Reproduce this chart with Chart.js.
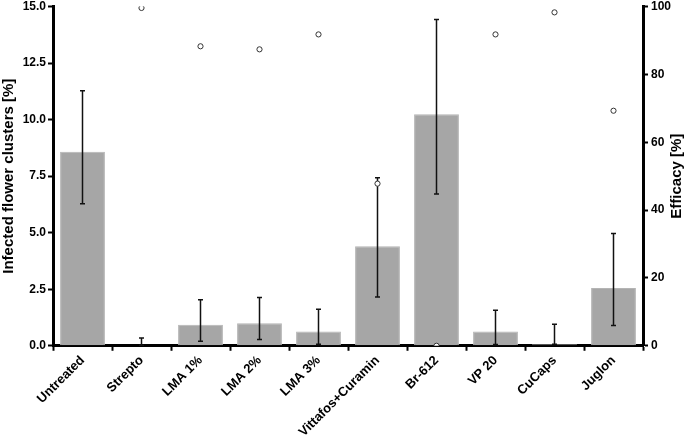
<!DOCTYPE html>
<html>
  <head>
    <meta charset="UTF-8">
    <title>Infected flower clusters and efficacy</title>
    <script src="https://cdn.jsdelivr.net/npm/chart.js@4.4.0/dist/chart.umd.min.js"></script>
    <style>
      body { margin: 0; background: #fff; }
      #wrap { width: 685px; height: 439px; }
    </style>
  </head>
  <body>
    <div id='wrap'><canvas id='chart'></canvas></div>

    <script>
      const treatments = ['Untreated', 'Strepto', 'LMA 1%', 'LMA 2%', 'LMA 3%',
        'Vittafos+Curamin', 'Br-612', 'VP 20', 'CuCaps', 'Juglon'];

      // infected flower clusters [%], mean with error bar ends
      const infected = [8.58, 0.02, 0.93, 1.00, 0.63, 4.40, 10.24, 0.63, 0.07, 2.56];
      const errUpper = [11.28, 0.34, 2.04, 2.14, 1.62, 7.43, 14.43, 1.57, 0.95, 4.97];
      const errLower = [6.28, 0.02, 0.20, 0.28, 0.07, 2.16, 6.71, 0.06, 0.07, 0.90];

      // efficacy [%] (no value for the untreated control)
      const efficacy = [null, 99.6, 88.3, 87.4, 91.8, 47.8, 0, 91.8, 98.3, 69.3];

      const leftTicks = [0, 2.5, 5, 7.5, 10, 12.5, 15];
      const rightTicks = [0, 20, 40, 60, 80, 100];

      const FONT = 'Liberation Sans';
      const tickFont = { family: FONT, size: 12, weight: 'bold', lineHeight: 0.6 };
      const xTickFont = { family: FONT, size: 13, weight: 'bold' };
      const titleFont = { family: FONT, size: 15, weight: 'bold' };

      // error bars go on top of the bars but under the efficacy points
      const errorBars = {
        id: 'errorBars',
        afterDatasetDraw(chart, args) {
          if (args.index !== 0) return;
          const { ctx } = chart;
          const y = chart.scales.y;
          const meta = chart.getDatasetMeta(0);
          ctx.save();
          ctx.strokeStyle = '#111';
          ctx.lineWidth = 1.5;
          meta.data.forEach((bar, i) => {
            const top = y.getPixelForValue(errUpper[i]);
            const bottom = y.getPixelForValue(errLower[i]);
            ctx.beginPath();
            ctx.moveTo(bar.x, top);
            ctx.lineTo(bar.x, bottom);
            ctx.moveTo(bar.x - 2.5, top);
            ctx.lineTo(bar.x + 2.5, top);
            ctx.moveTo(bar.x - 2.5, bottom);
            ctx.lineTo(bar.x + 2.5, bottom);
            ctx.stroke();
          });
          ctx.restore();
        }
      };

      // right axis title reading bottom to top, like the left one
      const rightTitle = {
        id: 'rightTitle',
        afterDraw(chart) {
          const { ctx } = chart;
          const s = chart.scales.y2;
          ctx.save();
          ctx.translate(chart.width - 8, (s.top + s.bottom) / 2);
          ctx.rotate(-Math.PI / 2);
          ctx.font = `bold ${titleFont.size}px "${FONT}"`;
          ctx.fillStyle = '#000';
          ctx.textAlign = 'center';
          ctx.textBaseline = 'middle';
          ctx.fillText('Efficacy [%]', 0, 0);
          ctx.restore();
        }
      };

      const ctx = document.getElementById('chart').getContext('2d');
      new Chart(ctx, {
        data: {
          labels: treatments,
          datasets: [{
            type: 'bar',
            data: infected,
            backgroundColor: '#a6a6a6',
            borderColor: '#b4b4b4',
            borderWidth: 1,
            categoryPercentage: 1,
            barPercentage: 0.76,
            yAxisID: 'y',
            order: 1
          }, {
            type: 'line',
            data: efficacy,
            showLine: false,
            pointRadius: 2.6,
            pointBorderWidth: 1,
            pointBorderColor: '#333',
            pointBackgroundColor: '#fff',
            yAxisID: 'y2',
            order: 0
          }]
        },
        options: {
          responsive: true,
          maintainAspectRatio: false,
          animation: false,
          layout: { padding: { top: -2, left: 0, right: 0, bottom: -3 } },
          plugins: {
            legend: { display: false },
            tooltip: { enabled: false }
          },
          scales: {
            x: {
              offset: true,
              afterFit: (s) => { s.paddingLeft = 0; s.paddingRight = 0; },
              grid: { offset: true, drawOnChartArea: false, tickLength: 5, tickColor: '#000', tickWidth: 2 },
              border: { color: '#000', width: 3 },
              ticks: { color: '#000', font: xTickFont, minRotation: 45, maxRotation: 45, padding: 2 }
            },
            y: {
              position: 'left',
              min: 0,
              max: 15,
              afterBuildTicks: (s) => { s.ticks = leftTicks.map(v => ({ value: v })); },
              afterFit: (s) => { s.width = 53; },
              grid: { drawOnChartArea: false, tickLength: 5, tickColor: '#000', tickWidth: 2 },
              border: { color: '#000', width: 3 },
              ticks: { color: '#000', font: tickFont, padding: 2, callback: (v) => v.toFixed(1) },
              title: { display: true, text: 'Infected flower clusters [%]', color: '#000', font: titleFont, padding: { top: 0, bottom: 0 } }
            },
            y2: {
              position: 'right',
              min: 0,
              max: 100,
              afterBuildTicks: (s) => { s.ticks = rightTicks.map(v => ({ value: v })); },
              afterFit: (s) => { s.width = 42; },
              grid: { drawOnChartArea: false, tickLength: 5, tickColor: '#000', tickWidth: 2 },
              border: { color: '#000', width: 3 },
              ticks: { color: '#000', font: tickFont, padding: 3 }
            }
          }
        },
        plugins: [errorBars, rightTitle]
      });
    </script>
  </body>
</html>
